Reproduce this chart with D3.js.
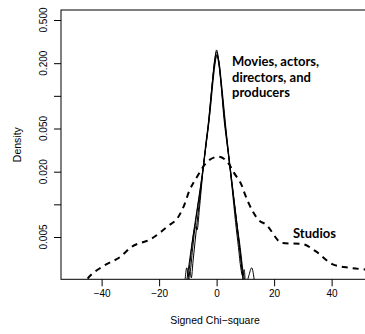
<!DOCTYPE html>
<html><head><meta charset="utf-8">
<script src="https://cdn.jsdelivr.net/npm/d3@7"></script>
<style>
html,body{margin:0;padding:0;background:#fff;}
svg{display:block;}
</style></head>
<body>
<svg id="chart" width="365" height="334"></svg>
<script>
// ---- Data ----
const xTicks = [-40, -20, 0, 20, 40];
const yTicks = [0.005, 0.01, 0.02, 0.05, 0.1, 0.2, 0.5];
const yTickLabels = ["0.005", "", "0.020", "0.050", "", "0.200", "0.500"];
const xTitle = "Signed Chi\u2212square";
const yTitle = "Density";

// Studios (dashed)
const studiosX = [-47, -45.3, -39.4, -33.4, -29.9, -22.8, -16.9, -13.4, -11.3, -9.5, -7.0, -2.8, 0.7, 4.2, 6.0, 8.8, 9.8, 15.1, 16.9, 22.8, 29.9, 34.4, 40.4, 46.4, 52.7];
const studiosY = [0.0017, 0.0020, 0.0027, 0.0033, 0.0040, 0.0048, 0.0063, 0.0076, 0.0098, 0.0133, 0.0176, 0.0253, 0.0275, 0.0237, 0.0196, 0.0148, 0.0125, 0.0070, 0.0066, 0.0044, 0.0043, 0.0037, 0.0028, 0.0026, 0.0025];

// Movies, actors, directors, producers (solid)
const moviesX = [-11, -9.6, -8.5, -7.5, -6.3, -5, -3.5, -2.6, -1.5, -0.6, 0, 0.6, 1.5, 2.6, 3.5, 5, 6.2, 7.5, 8.6, 9.5];
const moviesY = [0.0015, 0.0028, 0.0045, 0.0068, 0.011, 0.019, 0.038, 0.06, 0.13, 0.22, 0.265, 0.22, 0.13, 0.06, 0.038, 0.019, 0.010, 0.005, 0.0028, 0.0016];

const actorsX = [-10.5, -9.2, -8.2, -7.4, -6.8, -6.0, -4.8, -3.8, -2.8, -1.6, -0.6, 0, 0.7, 1.7, 2.9, 3.9, 5.2, 6.6, 7.8, 8.8, 9.8];
const actorsY = [0.0015, 0.0030, 0.0050, 0.0062, 0.0058, 0.0090, 0.020, 0.036, 0.058, 0.125, 0.22, 0.255, 0.215, 0.12, 0.056, 0.034, 0.017, 0.0085, 0.0045, 0.0026, 0.0015];

const directorsX = [-12, -11, -10.4, -9.8, -9.2, -8.4, -7.2, -5.8, -4.4, -3.2, -2.2, -1.2, -0.4, 0, 0.5, 1.3, 2.3, 3.4, 4.6, 5.8, 7.0, 8.2, 9.2, 10.2, 11.2, 12.2, 13.2, 14];
const directorsY = [0.0012, 0.0020, 0.0026, 0.0022, 0.0024, 0.0038, 0.0072, 0.013, 0.025, 0.045, 0.075, 0.14, 0.21, 0.24, 0.215, 0.15, 0.08, 0.042, 0.022, 0.012, 0.0068, 0.0040, 0.0024, 0.0018, 0.0022, 0.0026, 0.0019, 0.0012];

const producersX = [-10, -9.3, -8.8, -8.2, -7.4, -6.4, -5.2, -4.0, -2.9, -1.8, -0.8, 0.1, 0.9, 1.9, 3.0, 4.2, 5.4, 6.6, 7.6, 8.4, 9.0, 9.6, 10.2];
const producersY = [0.0012, 0.0024, 0.0021, 0.0030, 0.0048, 0.0085, 0.016, 0.030, 0.055, 0.11, 0.19, 0.235, 0.20, 0.115, 0.058, 0.028, 0.014, 0.0068, 0.0040, 0.0026, 0.0022, 0.0025, 0.0012];

const labelMovies = ["Movies, actors,", "directors, and", "producers"];
const labelStudios = "Studios";

// ---- Layout ----
const svg = d3.select("#chart");
const L = 61, T = 10, R = 369, B = 279.3;

const x = d3.scaleLinear().domain([-54.13, 53.0]).range([L, R]);
const decade = 108.5;
const yTop = Math.pow(10, Math.log10(0.5) + (20 - T) / decade);
const yBot = Math.pow(10, Math.log10(0.005) - (B - 237) / decade);
const y = d3.scaleLog().domain([yBot, yTop]).range([B, T]);

const font = "'Liberation Sans', Arial, Helvetica, sans-serif";

svg.append("defs").append("clipPath").attr("id", "clip")
  .append("rect").attr("x", L).attr("y", T).attr("width", R - L).attr("height", B - T);

// Axes
const xAxis = d3.axisBottom(x).tickValues(xTicks).tickSize(7).tickPadding(4)
  .tickFormat(d => d < 0 ? "\u2212" + Math.abs(d) : String(d));
const gx = svg.append("g").attr("transform", `translate(0,${B})`).call(xAxis);
gx.select(".domain").remove();
gx.selectAll("line").attr("stroke", "#000").attr("stroke-width", 1);
gx.selectAll("text").attr("font-family", font).attr("font-size", 10).attr("fill", "#000");

const yAxis = d3.axisLeft(y).tickValues(yTicks).tickSize(7).tickFormat((d, i) => "");
const gy = svg.append("g").attr("transform", `translate(${L},0)`).call(yAxis);
gy.select(".domain").remove();
gy.selectAll("line").attr("stroke", "#000").attr("stroke-width", 1);

svg.append("g").selectAll("text").data(yTicks).join("text")
  .attr("transform", d => `translate(47,${y(d)}) rotate(-90)`)
  .attr("text-anchor", "middle")
  .attr("font-family", font).attr("font-size", 10).attr("fill", "#000")
  .text((d, i) => yTickLabels[i]);

// Box
svg.append("rect").attr("x", L).attr("y", T).attr("width", R - L).attr("height", B - T)
  .attr("fill", "none").attr("stroke", "#000").attr("stroke-width", 1);

// Titles
svg.append("text").attr("x", 215).attr("y", 324).attr("text-anchor", "middle")
  .attr("font-family", font).attr("font-size", 10.5).attr("fill", "#000").text(xTitle);
svg.append("text").attr("transform", `translate(21,${(T + B) / 2}) rotate(-90)`)
  .attr("text-anchor", "middle")
  .attr("font-family", font).attr("font-size", 10.5).attr("fill", "#000").text(yTitle);

// Curves
const plot = svg.append("g").attr("clip-path", "url(#clip)");
const line = d3.line().x(d => x(d[0])).y(d => y(d[1])).curve(d3.curveMonotoneX);
const solids = [[moviesX, moviesY], [actorsX, actorsY], [directorsX, directorsY], [producersX, producersY]];
solids.forEach(([xs, ys]) => {
  plot.append("path").datum(xs.map((v, i) => [v, ys[i]]))
    .attr("d", line).attr("fill", "none").attr("stroke", "#000").attr("stroke-width", 1);
});
plot.append("path").datum(studiosX.map((v, i) => [v, studiosY[i]]))
  .attr("d", line).attr("fill", "none").attr("stroke", "#000")
  .attr("stroke-width", 2).attr("stroke-dasharray", "6,5");

// Annotations
const afont = "Lato, 'Open Sans', sans-serif";
const ta = svg.append("text").attr("font-family", afont).attr("font-weight", "bold")
  .attr("font-size", 13).attr("fill", "#000");
labelMovies.forEach((s, i) => {
  ta.append("tspan").attr("x", 232).attr("y", 66 + i * 15.5).text(s);
});
svg.append("text").attr("x", 293).attr("y", 238)
  .attr("font-family", afont).attr("font-weight", "bold")
  .attr("font-size", 13).attr("fill", "#000").text(labelStudios);
</script>
</body></html>
